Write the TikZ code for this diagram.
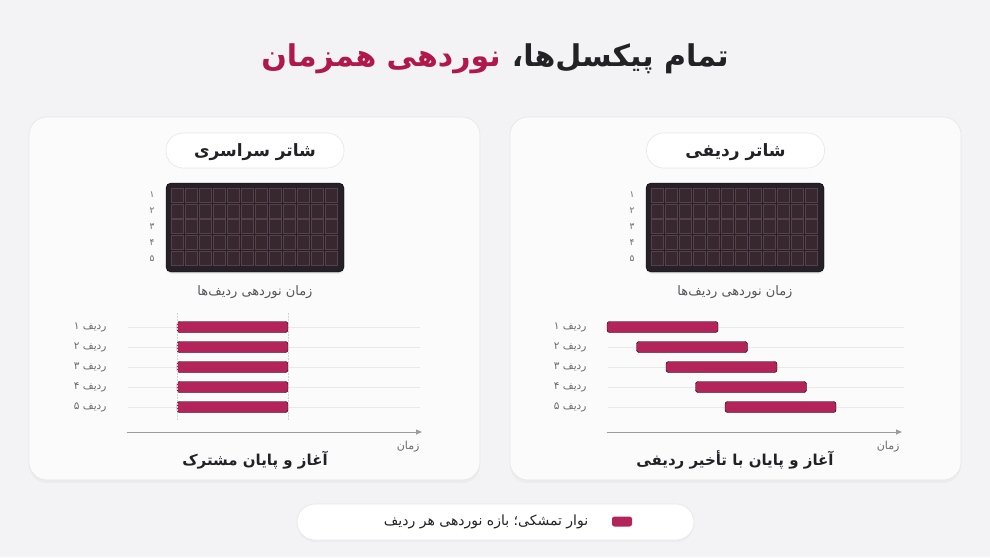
\documentclass[tikz,border=0pt]{standalone}
\usepackage{fontspec}
\usetikzlibrary{positioning,arrows.meta,shadows}
\newfontfamily\farsi[Script=Arabic]{DejaVu Sans}
\TeXXeTstate=1
\newcommand{\fatext}[1]{{\farsi\beginR #1\endR}}

\definecolor{pagebg}{HTML}{F3F3F5}
\definecolor{panelfill}{HTML}{FBFBFC}
\definecolor{panelline}{HTML}{E6E6EA}
\definecolor{tameshk}{HTML}{B3245A}
\definecolor{titlered}{HTML}{B0184A}
\definecolor{ink}{HTML}{222226}
\definecolor{midgray}{HTML}{555559}
\definecolor{softgray}{HTML}{6A6A6E}
\definecolor{sensorbody}{HTML}{262126}
\definecolor{cellfill}{HTML}{372830}
\definecolor{cellline}{HTML}{55404C}
\definecolor{gridline}{HTML}{E9E9EC}
\definecolor{axisgray}{HTML}{9C9CA0}

\tikzset{
  panel/.style={draw=panelline, fill=panelfill, line width=0.6pt, rounded corners=18pt,
    minimum width=451pt, minimum height=363pt,
    drop shadow={opacity=0.06, shadow xshift=0pt, shadow yshift=-3pt}},
  pill/.style={draw=panelline, fill=white, line width=0.6pt, rounded corners=17pt,
    minimum width=178pt, minimum height=35pt, inner sep=0pt},
  pilltext/.style={font=\farsi\bfseries\fontsize{17}{20}\selectfont, text=ink},
  sensor/.style={fill=sensorbody, rounded corners=5pt,
    drop shadow={opacity=0.12, shadow xshift=0pt, shadow yshift=-2pt}},
  cell/.style={fill=cellfill, draw=cellline, line width=0.4pt},
  rownum/.style={font=\farsi\fontsize{9}{10}\selectfont, text=softgray},
  caption/.style={font=\farsi\fontsize{13}{15}\selectfont, text=midgray},
  rowlabel/.style={font=\farsi\fontsize{10.5}{12}\selectfont, text=softgray, anchor=east},
  bar/.style={fill=tameshk, rounded corners=2.5pt},
  guide/.style={draw=gridline, line width=0.6pt},
  limit/.style={draw=gray!35, line width=0.5pt, dash pattern=on 1.5pt off 1.5pt},
  axis/.style={draw=axisgray, line width=0.8pt, -{Triangle[length=6pt,width=5pt]}},
  timelabel/.style={font=\farsi\fontsize{11}{13}\selectfont, text=softgray, anchor=east},
  bottomtext/.style={font=\farsi\bfseries\fontsize{15}{18}\selectfont, text=ink}
}

\begin{document}
\begin{tikzpicture}[x=1pt,y=-1pt]
    \useasboundingbox[fill=pagebg] (0,0) rectangle (990,557);
    \node (title) at (495,59) {\fontsize{30}{36}\selectfont\bfseries
        \textcolor{titlered}{\fatext{نوردهی همزمان}}\ \textcolor{ink}{\fatext{تمام پیکسل‌ها،}}};

    % left panel: global shutter
    \node[panel] (globalpanel) at (254.5,298.5) {};
    \node[pill] (globalpill) at (255,150.5) {};
    \node[pilltext] at ([yshift=-2pt]globalpill) {\fatext{شاتر سراسری}};
    \draw[sensor] (166,183) rectangle (344,272);
    \foreach \c in {0,...,11}
        \foreach \r in {0,...,4}
            \draw[cell] ({171+\c*14},{188+\r*15.8}) rectangle +(12.5,14);
    \foreach \r/\d in {1/۱,2/۲,3/۳,4/۴,5/۵}
        \node[rownum] (gnum\r) at (152,{179+\r*16}) {\fatext{\d}};
    \node[caption] (globalcap) at (255,292) {\fatext{زمان نوردهی ردیف‌ها}};
    \foreach \r/\d in {1/۱,2/۲,3/۳,4/۴,5/۵} {
        \draw[guide] (128,{307+\r*20}) -- (420,{307+\r*20});
        \node[rowlabel] (grow\r) at (110,{307+\r*20}) {\fatext{ردیف \d}};
        \draw[bar] (177,{301.5+\r*20}) rectangle (288,{312.5+\r*20});
    }
    \draw[limit] (177,313) -- (177,420);
    \draw[limit] (288,313) -- (288,420);
    \coordinate (gstart) at (127,432);
    \coordinate (gend) at (422,432);
    \draw[axis] (gstart) -- (gend);
    \node[timelabel] (gtime) at (423,447) {\fatext{زمان}};
    \node[bottomtext] (globalfoot) at (255,460) {\fatext{آغاز و پایان مشترک}};

    % right panel: rolling shutter
    \begin{scope}[xshift=480pt]
        \node[panel] (rollingpanel) at (255.5,298.5) {};
        \node[pill] (rollingpill) at (255.5,150.5) {};
        \node[pilltext] at ([yshift=-2pt]rollingpill) {\fatext{شاتر ردیفی}};
        \draw[sensor] (166,183) rectangle (344,272);
        \foreach \c in {0,...,11}
            \foreach \r in {0,...,4}
                \draw[cell] ({171+\c*14},{188+\r*15.8}) rectangle +(12.5,14);
        \foreach \r/\d in {1/۱,2/۲,3/۳,4/۴,5/۵}
            \node[rownum] (rnum\r) at (152,{179+\r*16}) {\fatext{\d}};
        \node[caption] (rollingcap) at (255,292) {\fatext{زمان نوردهی ردیف‌ها}};
        \foreach \r/\d in {1/۱,2/۲,3/۳,4/۴,5/۵} {
            \draw[guide] (128,{307+\r*20}) -- (424,{307+\r*20});
            \node[rowlabel] (rrow\r) at (110,{307+\r*20}) {\fatext{ردیف \d}};
            \draw[bar] ({97.5+\r*29.5},{301.5+\r*20}) rectangle ({208.5+\r*29.5},{312.5+\r*20});
        }
        \coordinate (rstart) at (127,432);
        \coordinate (rend) at (422,432);
        \draw[axis] (rstart) -- (rend);
        \node[timelabel] (rtime) at (423,447) {\fatext{زمان}};
        \node[bottomtext] (rollingfoot) at (255,460) {\fatext{آغاز و پایان با تأخیر ردیفی}};
    \end{scope}

    % legend
    \node[pill, minimum width=397pt, minimum height=36pt, rounded corners=18pt,
        drop shadow={opacity=0.05, shadow xshift=0pt, shadow yshift=-2pt}] (legend) at (495.5,522) {};
    \node[bar, minimum width=20pt, minimum height=10pt, inner sep=0pt] (swatch) at (622,521.5) {};
    \node[font=\farsi\fontsize{14}{16}\selectfont, text=ink, left=20pt of swatch] (legendtext)
        {\fatext{نوار تمشکی؛ بازه نوردهی هر ردیف}};
\end{tikzpicture}
\end{document}
